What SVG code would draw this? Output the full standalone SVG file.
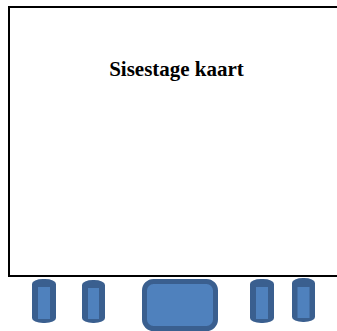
<svg xmlns="http://www.w3.org/2000/svg" width="337" height="331" viewBox="0 0 337 331">
<style>
.frame{fill:none;stroke:#000;stroke-width:2}
.title{font-family:"Liberation Serif","Times New Roman",serif;font-weight:bold;font-size:21px;fill:#000}
.cyl-out{fill:#3A5F8F}
.cyl-in{fill:#4F81BD}
.scr{fill:#4F81BD;stroke:#3A5F8F;stroke-width:5}
</style>
<rect width="337" height="331" fill="#fff"/>
<g id="card">
<path class="frame" d="M337,7 H9 V276 H337"/>
<text class="title" x="176.5" y="76" text-anchor="middle">Sisestage kaart</text>
</g>
<g id="cyl1">
<rect class="cyl-out" x="32" y="279" width="24" height="44" rx="11" ry="5"/>
<rect class="cyl-in" x="38" y="287" width="12" height="32"/>
</g>
<g id="cyl2">
<rect class="cyl-out" x="82" y="280" width="23" height="43" rx="11" ry="5"/>
<rect class="cyl-in" x="88" y="288" width="11" height="31"/>
</g>
<g id="screen">
<rect class="scr" x="144.5" y="281.5" width="71" height="47" rx="9"/>
</g>
<g id="cyl3">
<rect class="cyl-out" x="250" y="279" width="24" height="44" rx="11" ry="5"/>
<rect class="cyl-in" x="256" y="287" width="12" height="32"/>
</g>
<g id="cyl4">
<rect class="cyl-out" x="292" y="278" width="23" height="44" rx="11" ry="5"/>
<rect class="cyl-in" x="297.5" y="287" width="12" height="31"/>
</g>
</svg>
